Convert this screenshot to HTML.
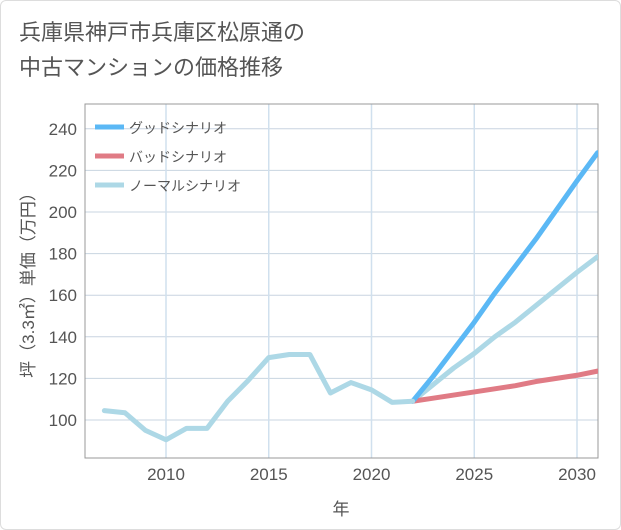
<!DOCTYPE html>
<html><head><meta charset="utf-8"><style>
body{margin:0;background:#fff;}
#wrap{position:relative;width:621px;height:530px;background:#fff;border:1px solid #ddd;box-sizing:border-box;border-radius:6px;overflow:hidden;font-family:"Liberation Sans","Noto Sans CJK JP",sans-serif;}
#title{position:absolute;left:18px;top:14px;font-size:22px;line-height:35px;color:#555;}
svg{position:absolute;left:0;top:0;}
</style></head><body>
<div id="wrap">
<div id="title">兵庫県神戸市兵庫区松原通の<br>中古マンションの価格推移</div>
<svg id="chart" width="621" height="530"></svg>
</div>
<script>
const histYears=[2007,2008,2009,2010,2011,2012,2013,2014,2015,2016,2017,2018,2019,2020,2021,2022];
const histValues=[104.5,103.5,95,90.5,96,96,109,119,130,131.5,131.5,113,118,114.5,108.5,109];
const projYears=[2022,2023,2024,2025,2026,2027,2028,2029,2030,2031];
const goodValues=[109,121,134,147,161,174,187,201,215,228.5];
const badValues=[109,110.5,112,113.5,115,116.5,118.5,120,121.5,123.5];
const normalValues=[109,117,125,132,140,147,155,163,171,178.5];
const xTicks=[2010,2015,2020,2025,2030];
const yTicks=[100,120,140,160,180,200,220,240];
const legendLabels=["グッドシナリオ","バッドシナリオ","ノーマルシナリオ"];

const NS="http://www.w3.org/2000/svg";
const svg=document.getElementById('chart');
const L=84,R=597,T=103,B=457;
const x=y=>165+(y-2010)*20.55;
const yv=v=>419-(v-100)*2.08;
function el(t,a,p){const e=document.createElementNS(NS,t);for(const k in a)e.setAttribute(k,a[k]);(p||svg).appendChild(e);return e;}
yTicks.forEach(v=>{
 const g=el('line',{x1:L,x2:R,y1:yv(v),y2:yv(v),stroke:'#c8d4e0','stroke-width':1});
 
 
 const t=el('text',{x:L-8,y:yv(v)+6,'text-anchor':'end','font-size':17,fill:'#555'});
 t.textContent=v;
 
 
});
xTicks.forEach(v=>{
 const g=el('line',{x1:x(v),x2:x(v),y1:T,y2:B,stroke:'#d0e0ee','stroke-width':1.5});
 
 
 const t=el('text',{x:x(v),y:B+22,'text-anchor':'middle','font-size':17,fill:'#555'});
 t.textContent=v;
 
 
});
const frame=el('rect',{x:L,y:T,width:R-L,height:B-T,fill:'none',stroke:'#999','stroke-width':1});


function line(xs,vs,c,name){
 const p=el('polyline',{points:xs.map((yr,i)=>x(yr)+','+yv(vs[i])).join(' '),fill:'none',stroke:c,'stroke-width':5,'stroke-linejoin':'round','stroke-linecap':'round'});
 
 
}
const clip=el('clipPath',{id:'cp'});el('rect',{x:L,y:T,width:R-L,height:B-T},clip);
line(projYears,normalValues,'#add8e6','normal-scenario-line');
line(projYears,badValues,'#e07b85','bad-scenario-line');
line(projYears,goodValues,'#5bb8f5','good-scenario-line');
line(histYears,histValues,'#add8e6','historical-line');
svg.querySelectorAll('polyline').forEach(p=>p.setAttribute('clip-path','url(#cp)'));
const colors=['#5bb8f5','#e07b85','#add8e6'];
legendLabels.forEach((s,i)=>{
 const yy=126+i*29;
 const m=el('line',{x1:94,x2:123,y1:yy,y2:yy,stroke:colors[i],'stroke-width':5});
 
 
 const t=el('text',{x:128,y:yy+6,'font-size':14,fill:'#555'});
 t.textContent=s;
 
 
});
const yt=el('text',{x:0,y:0,'font-size':17,fill:'#555','text-anchor':'middle',transform:'translate(33,280) rotate(-90)'});
yt.textContent='坪（3.3㎡）単価（万円）';


const xt=el('text',{x:340,y:514,'font-size':17,fill:'#555','text-anchor':'middle'});
xt.textContent='年';


</script>
</body></html>
